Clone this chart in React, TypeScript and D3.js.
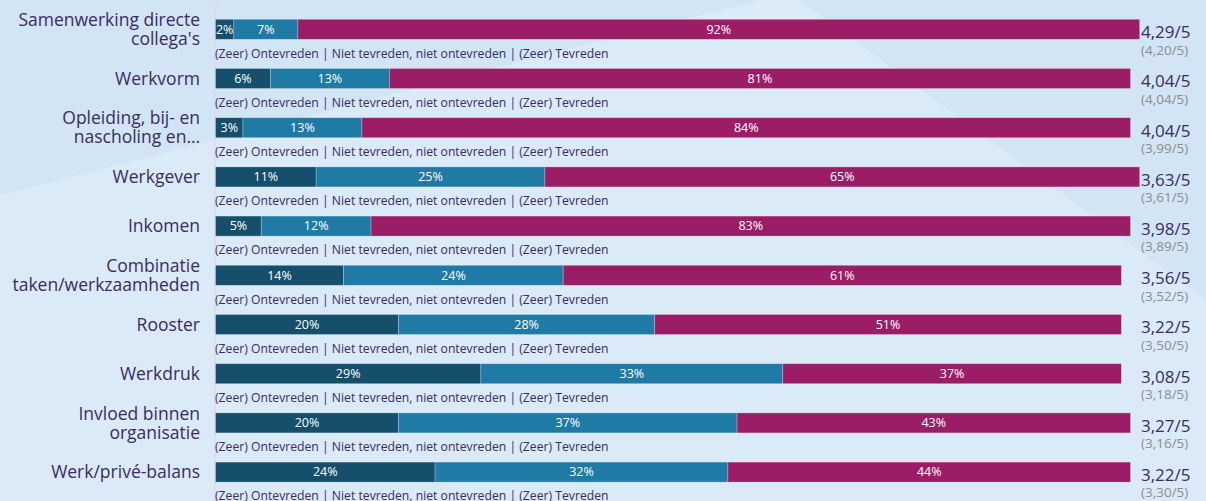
import React from "react";
import * as d3 from "d3";

const categories: string[][] = [
  ["Samenwerking directe", "collega's"],
  ["Werkvorm"],
  ["Opleiding, bij- en", "nascholing en…"],
  ["Werkgever"],
  ["Inkomen"],
  ["Combinatie", "taken/werkzaamheden"],
  ["Rooster"],
  ["Werkdruk"],
  ["Invloed binnen", "organisatie"],
  ["Werk/privé-balans"],
];
const ontevreden = [2, 6, 3, 11, 5, 14, 20, 29, 20, 24];
const neutraal = [7, 13, 13, 25, 12, 24, 28, 33, 37, 32];
const tevreden = [92, 81, 84, 65, 83, 61, 51, 37, 43, 44];
const scores = [4.29, 4.04, 4.04, 3.63, 3.98, 3.56, 3.22, 3.08, 3.27, 3.22];
const previous = [4.2, 4.04, 3.99, 3.61, 3.89, 3.52, 3.5, 3.18, 3.16, 3.3];
const legendText = "(Zeer) Ontevreden | Niet tevreden, niet ontevreden | (Zeer) Tevreden";
const seriesColors = ["#154f6c", "#1f7aa5", "#9b1d65"];

const W = 1206;
const H = 501;
const FONT = "'Open Sans', 'Noto Sans', sans-serif";
const TEXT = "#3b2c62";

export default function App() {
  const x = d3.scaleLinear().domain([0, 100]).range([215.5, 1130.5]);
  const ids = categories.map((_, i) => String(i));
  const y = d3
    .scaleBand<string>()
    .domain(ids)
    .range([19.3, 482.1])
    .paddingInner(0.5935)
    .paddingOuter(0)
    .align(0);
  const bh = y.bandwidth();
  const fmt = (v: number) => d3.format(".2f")(v).replace(".", ",");

  return (
    <svg
      width={W}
      height={H}
      style={{ position: "absolute", left: 0, top: 0, display: "block" }}
      fontFamily={FONT}
    >
      <rect x={0} y={0} width={W} height={H} fill="#d1e5f4" />
      <polygon
        points={`0,195 760,0 800,0 ${W},300 ${W},${H} 0,${H}`}
        fill="#daeaf7"
      />
      <line x1={215} x2={215} y1={4} y2={H} stroke="#e3d3ea" strokeWidth={1.2} />
      <line x1={215} x2={220} y1={4.5} y2={4.5} stroke="#e3d3ea" strokeWidth={1} />
      {ids.map((id, i) => {
        const top = y(id)!;
        const cy = top + bh / 2;
        const vals = [ontevreden[i], neutraal[i], tevreden[i]];
        const stack = d3.cumsum(vals);
        const lines = categories[i];
        return (
          <g key={id}>
            {vals.map((v, k) => {
              const x0 = x(k === 0 ? 0 : stack[k - 1]);
              const x1 = x(stack[k]);
              return (
                <g key={k}>
                  <rect
                    x={x0}
                    y={top}
                    width={x1 - x0}
                    height={bh}
                    fill={seriesColors[k]}
                    stroke="rgba(255,255,255,0.3)"
                    strokeWidth={0.8}
                  />
                  <text
                    x={(x0 + x1) / 2}
                    y={cy}
                    dy="0.35em"
                    textAnchor="middle"
                    fill="#ffffff"
                    fontSize={12.5}
                  >
                    {v}%
                  </text>
                </g>
              );
            })}
            {lines.map((ln, j) => (
              <text
                key={j}
                x={200}
                y={cy + (j - (lines.length - 1) / 2) * 19}
                dy="0.35em"
                textAnchor="end"
                fill={TEXT}
                fontSize={17.5}
              >
                {ln}
              </text>
            ))}
            <text
              x={215}
              y={top + bh + 14}
              dy="0.35em"
              fill={TEXT}
              fontSize={12.2}
            >
              {legendText}
            </text>
            <text x={1141} y={cy + 3} dy="0.35em" fill={TEXT} fontSize={17}>
              {fmt(scores[i])}/5
            </text>
            <text x={1141} y={cy + 20.5} dy="0.35em" fill="#8d8d8d" fontSize={13.5}>
              ({fmt(previous[i])}/5)
            </text>
          </g>
        );
      })}
    </svg>
  );
}
